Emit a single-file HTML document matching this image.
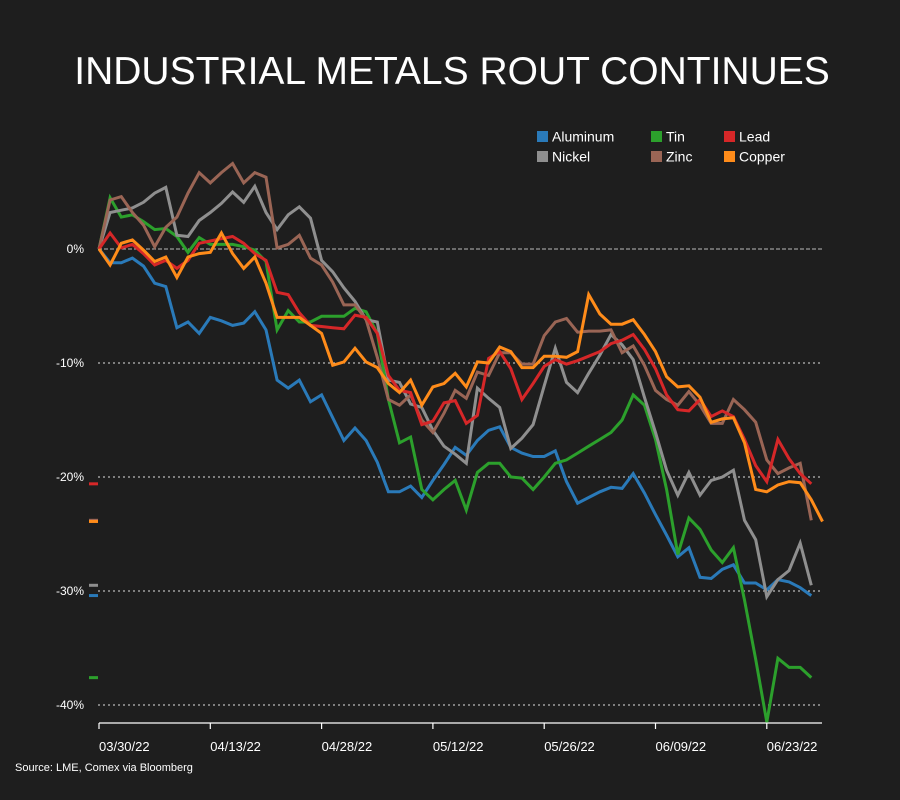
<!DOCTYPE html>
<html><head><meta charset="utf-8">
<style>
html,body{margin:0;padding:0;background:#1e1e1e;}
svg{display:block;font-family:"Liberation Sans",sans-serif;}
</style></head>
<body>
<svg id="chart" width="900" height="800" viewBox="0 0 900 800">
<rect x="0" y="0" width="900" height="800" fill="#1e1e1e"/>
<text x="452" y="84" text-anchor="middle" fill="#ffffff" font-size="39">INDUSTRIAL METALS ROUT CONTINUES</text>
<g id="grid"></g>
<g id="yaxis"></g>
<g id="xaxis"></g>
<g id="series"></g>
<g id="markers"></g>
<g id="legend"></g>
<text x="15" y="771" fill="#ffffff" font-size="11">Source: LME, Comex via Bloomberg</text>
</svg>
<script>
const seriesNames = ["Aluminum","Tin","Lead","Nickel","Zinc","Copper"];
const seriesColors = ["#2a7ab9","#2ca02c","#d62728","#8f8f8f","#9a6555","#ff8c1a"];
const yTicks = [0,-10,-20,-30,-40];
const yTickLabels = ["0%","-10%","-20%","-30%","-40%"];
const xTickIndex = [0,10,20,30,40,50,60];
const xTickLabels = ["03/30/22","04/13/22","04/28/22","05/12/22","05/26/22","06/09/22","06/23/22"];
const aluminum = [0,-1.2,-1.2,-0.8,-1.5,-3.0,-3.3,-6.9,-6.4,-7.4,-6.0,-6.3,-6.7,-6.5,-5.5,-7.1,-11.5,-12.2,-11.5,-13.4,-12.8,-14.8,-16.8,-15.7,-16.8,-18.7,-21.3,-21.3,-20.8,-21.8,-20.3,-18.9,-17.4,-18.1,-16.8,-15.9,-15.6,-17.4,-17.9,-18.2,-18.2,-17.7,-20.4,-22.3,-21.8,-21.3,-20.9,-21.0,-19.7,-21.4,-23.3,-25.1,-27.0,-26.2,-28.8,-28.9,-28.1,-27.7,-29.3,-29.3,-29.9,-29.0,-29.2,-29.7,-30.4];
const tin = [0,4.5,2.8,3.0,2.4,1.7,1.8,1.1,-0.3,1.0,0.4,0.4,0.4,0.2,-0.1,-1.1,-7.1,-5.4,-6.4,-6.4,-5.9,-5.9,-5.9,-5.2,-5.5,-7.4,-13.2,-17.0,-16.5,-21.1,-22.0,-21.1,-20.3,-22.9,-19.6,-18.8,-18.8,-20.0,-20.1,-21.1,-20.0,-18.8,-18.5,-17.9,-17.3,-16.7,-16.1,-15.0,-12.8,-13.7,-16.7,-21.1,-26.8,-23.6,-24.6,-26.4,-27.5,-26.2,-30.8,-36.0,-41.5,-35.9,-36.7,-36.7,-37.6];
const lead = [0,1.4,0.1,0.4,-0.4,-1.4,-1.0,-1.7,-1.0,0.5,0.7,0.9,1.1,0.5,-0.4,-1.0,-3.8,-4.0,-5.6,-6.7,-6.8,-6.9,-7.0,-5.8,-6.0,-7.4,-11.1,-12.4,-12.6,-15.4,-15.1,-13.5,-13.3,-15.3,-14.6,-9.6,-9.0,-10.5,-13.2,-11.8,-10.3,-9.7,-10.1,-9.8,-9.4,-9.0,-8.3,-8.0,-7.5,-8.8,-10.5,-12.8,-14.1,-14.2,-13.2,-14.7,-14.2,-14.7,-16.7,-19.0,-20.4,-16.7,-18.4,-19.7,-20.6];
const nickel = [0,3.2,3.4,3.6,4.1,4.9,5.4,1.2,1.1,2.5,3.2,4.0,5.0,4.1,5.5,3.2,1.7,3.0,3.7,2.7,-1.0,-2.0,-3.4,-4.6,-6.2,-6.4,-11.5,-11.7,-13.6,-13.9,-15.9,-17.3,-18.0,-18.8,-12.2,-13.1,-13.9,-17.5,-16.6,-15.4,-12.0,-8.7,-11.7,-12.6,-10.9,-9.3,-7.5,-8.4,-9.7,-13.0,-16.1,-19.4,-21.6,-19.6,-21.6,-20.3,-20.0,-19.4,-23.8,-25.5,-30.5,-29.0,-28.2,-25.8,-29.5];
const zinc = [0,4.3,4.6,3.2,2.1,0.2,1.9,2.8,4.9,6.7,5.8,6.7,7.5,5.8,6.7,6.3,0.1,0.4,1.2,-0.8,-1.4,-2.9,-4.9,-4.9,-6.2,-9.5,-13.2,-13.7,-12.8,-15.0,-16.1,-14.4,-12.4,-13.1,-10.8,-11.1,-9.1,-9.1,-10.1,-10.1,-7.6,-6.4,-6.1,-7.3,-7.2,-7.2,-7.1,-9.1,-8.5,-10.2,-12.4,-13.2,-13.7,-12.5,-13.7,-15.3,-15.3,-13.2,-14.1,-15.2,-18.5,-19.7,-19.2,-18.8,-23.8];
const copper = [0,-1.4,0.5,0.8,-0.1,-1.1,-0.7,-2.5,-0.7,-0.4,-0.3,1.4,-0.4,-1.7,-0.7,-3.0,-6.0,-6.0,-6.0,-6.7,-7.4,-10.2,-9.9,-8.7,-9.9,-10.4,-11.8,-12.6,-11.5,-13.7,-12.1,-11.8,-10.9,-12.1,-9.9,-10.0,-8.6,-9.0,-10.4,-10.4,-9.4,-9.4,-9.5,-9.0,-4.0,-5.7,-6.6,-6.6,-6.2,-7.5,-9.0,-11.2,-12.1,-12.0,-13.0,-15.2,-14.9,-14.8,-17.0,-21.1,-21.3,-20.7,-20.4,-20.5,-22.0,-23.9];
const seriesData = [aluminum,tin,lead,nickel,zinc,copper];

const NS = "http://www.w3.org/2000/svg";
const X0 = 99, XSTEP = 11.13, Y0 = 249, YSCALE = 11.4;
function xScale(i){ return X0 + i*XSTEP; }
function yScale(v){ return Y0 - v*YSCALE; }
function mk(tag, attrs, parent){ const e=document.createElementNS(NS,tag); for(const k in attrs) e.setAttribute(k,attrs[k]); parent.appendChild(e); return e; }

const grid = document.getElementById('grid');
const yaxis = document.getElementById('yaxis');
yTicks.forEach((t,k)=>{
  const y = yScale(t);
  const ln = mk('line',{x1:98,x2:822,y1:y,y2:y,stroke: t===0?'#bbbbbb':'#e0e0e0','stroke-width':1,'stroke-dasharray': t===0?'4,2':'2,3'},grid);
  
  
  const tx = mk('text',{x:84,y:y+4,'text-anchor':'end',fill:'#ffffff','font-size':12},yaxis);
  tx.textContent = yTickLabels[k];
  
  
});

const xaxis = document.getElementById('xaxis');
const axl = mk('line',{x1:99,x2:822,y1:723,y2:723,stroke:'#ffffff','stroke-width':1.2},xaxis);


xTickIndex.forEach((idx,k)=>{
  const x = xScale(idx);
  const tk = mk('line',{x1:x,x2:x,y1:723,y2:729,stroke:'#ffffff','stroke-width':1.2},xaxis);
  
  
  const tx = mk('text',{x:x,y:751,fill:'#ffffff','font-size':13},xaxis);
  tx.textContent = xTickLabels[k];
  
  
});

const sg = document.getElementById('series');
const mg = document.getElementById('markers');
const order = [0,1,3,4,2,5];
order.forEach(s=>{
  const d = seriesData[s].map((v,i)=>(i?'L':'M')+xScale(i).toFixed(1)+','+yScale(v).toFixed(1)).join(' ');
  const p = mk('path',{d:d,fill:'none',stroke:seriesColors[s],'stroke-width':3,'stroke-linejoin':'miter','stroke-linecap':'butt'},sg);
  
  
});
seriesData.forEach((arr,s)=>{
  const y = yScale(arr[arr.length-1]);
  const m = mk('line',{x1:89,x2:98,y1:y,y2:y,stroke:seriesColors[s],'stroke-width':3},mg);
  
  
});

const lg = document.getElementById('legend');
const legendPos = [[537,137],[651,137],[724,137],[537,157],[651,157],[724,157]];
const legendOrder = [0,1,2,3,4,5];
legendOrder.forEach((s,k)=>{
  const [x,y] = legendPos[k];
  const r = mk('rect',{x:x,y:y-6,width:11,height:11,fill:seriesColors[s]},lg);
  
  
  const t = mk('text',{x:x+15,y:y+4.5,fill:'#ffffff','font-size':14},lg);
  t.textContent = seriesNames[s];
  
  
});
</script>
</body></html>
